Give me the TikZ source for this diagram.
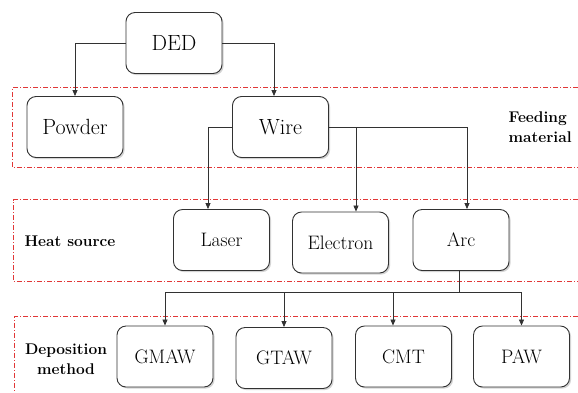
\documentclass[tikz,border=0pt]{standalone}
\usetikzlibrary{shadows,arrows.meta}
\definecolor{edge}{RGB}{50,50,50}
\definecolor{zone}{RGB}{225,55,55}
\tikzset{
  box/.style={draw=edge, line width=0.9pt, rounded corners=9pt, fill=white,
    minimum width=96pt, minimum height=61pt, inner sep=0pt,
    drop shadow={shadow xshift=1.6pt, shadow yshift=-1.6pt, opacity=0.28, fill=black!60}},
  topbox/.style={box, font=\fontsize{22}{24}\selectfont},
  lowbox/.style={box, font=\fontsize{19.5}{22}\selectfont},
  link/.style={draw=edge, line width=0.8pt},
  arr/.style={link, -{Triangle[length=6pt,width=5pt]}},
  zonebox/.style={draw=zone, line width=1pt, dash pattern=on 5pt off 2pt on 1pt off 2pt},
  tag/.style={font=\bfseries\fontsize{15.5}{20}\selectfont, align=center}
}
\begin{document}
\begin{tikzpicture}[x=1pt,y=-1pt]
\useasboundingbox (0,0) rectangle (578,392);
\fill[white] (0,0) rectangle (578,392);
\begin{scope}
\clip (0,0) rectangle (578,392);
% dash-dot band outlines (open on the right), set on pixel centres
\draw[zonebox] (578,87.5) -- (12.5,87.5) -- (12.5,167.5) -- (578,167.5);
\draw[zonebox] (578,199.5) -- (13.5,199.5) -- (13.5,281.5) -- (578,281.5);
\draw[zonebox] (578,316.5) -- (14.5,316.5) -- (14.5,395);

% band labels
\node[tag, align=left, anchor=west] (lfeed) at (505,127) {Feeding\\material};
\node[tag] (lheat) at (70,241) {Heat source};
\node[tag] (ldep) at (66,359) {Deposition\\method};

% process tree
\node[topbox] (ded) at (174,43) {DED};
\node[topbox] (powder) at (75,127) {Powder};
\node[topbox] (wire) at (280.5,127) {Wire};

\node[lowbox] (laser) at (221.5,240) {Laser};
\node[lowbox] (electron) at (340.5,242.5) {Electron};
\node[lowbox] (arc) at (461,240) {Arc};

\node[lowbox] (gmaw) at (165,356.5) {GMAW};
\node[lowbox] (gtaw) at (284,358) {GTAW};
\node[lowbox] (cmt) at (403.5,356.5) {CMT};
\node[lowbox] (paw) at (521.5,356.5) {PAW};

% connectors
\draw[arr] (ded.west) -| (powder.north);
\draw[arr] (ded.east) -| ([xshift=-6.5pt]wire.north);

\draw[arr] (wire.west) -| ([xshift=-13.5pt]laser.north);
\draw[arr] (wire.east) -| ([xshift=6pt]arc.north);
\coordinate (tap) at (356,127);
\draw[arr] (tap) -- ([xshift=15.5pt]electron.north);

\coordinate (bus) at (459,292);
\draw[link] ([xshift=-2pt]arc.south) -- (bus);
\draw[arr] (bus) -| (gmaw.north);
\draw[arr] (bus) -| (gtaw.north);
\draw[arr] (bus) -| ([xshift=-10.5pt]cmt.north);
\draw[arr] (bus) -| (paw.north);
\end{scope}
\end{tikzpicture}
\end{document}
